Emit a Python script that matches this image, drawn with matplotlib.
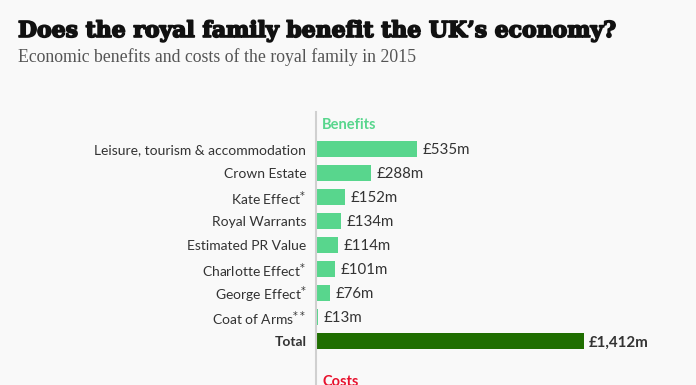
import matplotlib

matplotlib.use("Agg")
import matplotlib.pyplot as plt
import matplotlib.patheffects as pe

# data
categories = ["Leisure, tourism & accommodation", "Crown Estate",
              "Kate Effect$^{*}$", "Royal Warrants", "Estimated PR Value",
              "Charlotte Effect$^{*}$", "George Effect$^{*}$",
              "Coat of Arms$^{**}$", "Total"]
values = [535, 288, 152, 134, 114, 101, 76, 13, 1412]
value_labels = ["£535m", "£288m", "£152m", "£134m", "£114m", "£101m",
                "£76m", "£13m", "£1,412m"]

BG = "#f9f9f9"
GREEN = "#58d68d"
DARK = "#1f6e00"
W, H = 696, 385

plt.rcParams["font.family"] = ["Lato", "DejaVu Sans"]

fig = plt.figure(figsize=(W / 100, H / 100), dpi=100, facecolor=BG)

# axes spans from the zero line (x=316px) to the right edge, y 112px -> bottom
x0, top = 316, 112
ax = fig.add_axes([x0 / W, 0, 1 - x0 / W, 1 - top / H])
ax.set_facecolor(BG)

row_px, first_px = 24, 149
ax.set_ylim((H - first_px) / row_px, -(first_px - top) / row_px)
ax.set_xlim(0, 1412 * (W - x0) / 267.5)

colors = [GREEN] * (len(values) - 1) + [DARK]
ys = list(range(len(values)))
ax.barh(ys, values, height=0.7, color=colors)

for y, v, lab, cat in zip(ys, values, value_labels, categories):
    bold = cat == "Total"
    ax.annotate(lab, (v, y), xytext=(4, -1), textcoords="offset points",
                va="center", ha="left", fontsize=10.8, color="#333333",
                fontweight="bold" if bold else "normal")
    ax.annotate(cat, (0, y), xytext=(-7, -1), textcoords="offset points",
                va="center", ha="right", fontsize=10, color="#333333",
                fontweight="bold" if bold else "normal",
                annotation_clip=False)

ax.text(32, -1.0, "Benefits", color=GREEN, fontsize=10.5, va="center",
        ha="left", fontweight="bold")
ax.text(32, 9.4, "Costs", color="#e8112d", fontsize=10.5, va="top",
        ha="left", fontweight="bold")

for s in ["top", "right", "bottom"]:
    ax.spines[s].set_visible(False)
ax.spines["left"].set_color("#d0d0d0")
ax.spines["left"].set_linewidth(1.5)
ax.set_xticks([])
ax.set_yticks([])

fig.text(18 / W, 1 - 31 / H, "Does the royal family benefit the UK\u2019s economy?",
         fontsize=15.8, fontweight="heavy", family="DejaVu Serif",
         va="center", ha="left", color="#111111",
         path_effects=[pe.withStroke(linewidth=1.2, foreground="#111111")])
fig.text(18 / W, 1 - 57 / H, "Economic benefits and costs of the royal family in 2015",
         fontsize=12.8, family="Liberation Serif", va="center", ha="left",
         color="#555555")

fig.savefig("out.png", dpi=100, facecolor=BG)
